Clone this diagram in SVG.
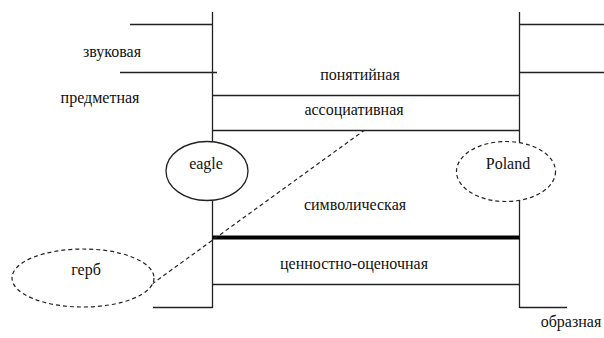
<svg xmlns="http://www.w3.org/2000/svg" width="604" height="338" viewBox="0 0 604 338">
<style>
.ln{stroke:#222;stroke-width:1.3;fill:none}
.thick{stroke:#000;stroke-width:4;fill:none}
.dash{stroke:#222;stroke-width:1.2;fill:none;stroke-dasharray:4 3}
.el{stroke:#222;stroke-width:1.3;fill:#fff}
.del{stroke:#222;stroke-width:1.2;fill:#fff;stroke-dasharray:4 3}
text{font-family:"Liberation Serif","Times New Roman",serif;font-size:16px;fill:#111;text-anchor:middle}
</style>
<rect width="604" height="338" fill="#fff"/>
<g id="connectors">
<line class="ln" x1="212.5" y1="12" x2="212.5" y2="308"/>
<line class="ln" x1="519.5" y1="12" x2="519.5" y2="308"/>
<line class="ln" x1="130" y1="24.5" x2="212.5" y2="24.5"/>
<line class="ln" x1="120" y1="72.5" x2="217" y2="72.5"/>
<line class="ln" x1="519.5" y1="24.5" x2="604" y2="24.5"/>
<line class="ln" x1="519.5" y1="72.5" x2="604" y2="72.5"/>
<line class="ln" x1="212.5" y1="95.5" x2="519.5" y2="95.5"/>
<line class="ln" x1="212.5" y1="130.5" x2="519.5" y2="130.5"/>
<line class="thick" x1="212.5" y1="237.5" x2="519.5" y2="237.5"/>
<line class="ln" x1="212.5" y1="284.5" x2="519.5" y2="284.5"/>
<line class="ln" x1="153" y1="307.5" x2="212.5" y2="307.5"/>
<line class="ln" x1="519.5" y1="307.5" x2="567" y2="307.5"/>
<line class="dash" x1="152" y1="284" x2="364" y2="130.5"/>
</g>
<g id="labels">
<text x="112" y="57">звуковая</text>
<text x="100" y="103">предметная</text>
<text x="360" y="80">понятийная</text>
<text x="354" y="115">ассоциативная</text>
<text x="355" y="210">символическая</text>
<text x="354" y="269">ценностно-оценочная</text>
<text x="571" y="327">образная</text>
</g>
<g id="eagle">
<ellipse class="el" cx="207" cy="171" rx="41" ry="29.5"/>
<text x="206" y="169">eagle</text>
</g>
<g id="poland">
<ellipse class="del" cx="506" cy="171.5" rx="49.5" ry="30"/>
<text x="508" y="169">Poland</text>
</g>
<g id="gerb">
<ellipse class="del" cx="83" cy="278" rx="71" ry="29"/>
<text x="86" y="275">герб</text>
</g>
</svg>
